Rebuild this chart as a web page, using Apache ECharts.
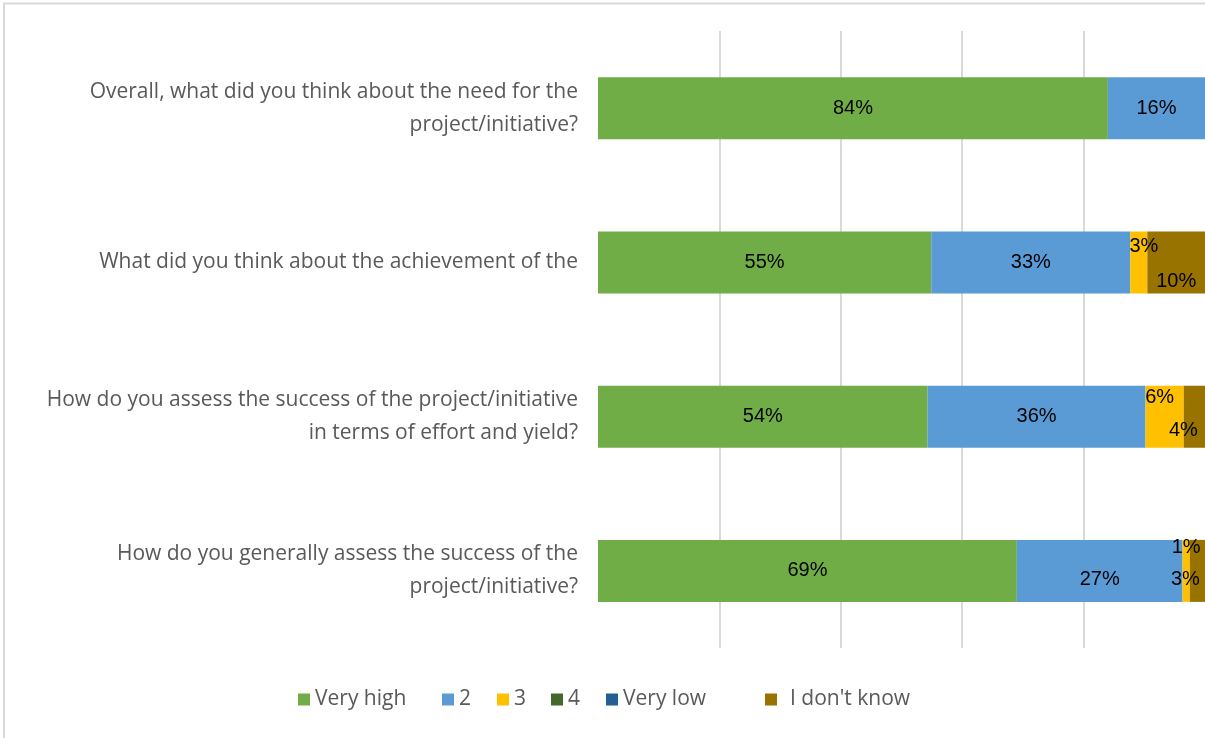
<!DOCTYPE html>
<html>
<head>
<meta charset="utf-8">
<script src="https://cdn.jsdelivr.net/npm/echarts@6/dist/echarts.min.js"></script>
<style>
html,body{margin:0;padding:0;background:#fff;}
#main{width:1205px;height:738px;}
</style>
</head>
<body>
<div id="main"></div>
<script>
// ---- data ----
var categories = [
  "Overall, what did you think about the need for the\nproject/initiative?",
  "What did you think about the achievement of the",
  "How do you assess the success of the project/initiative\nin terms of effort and yield?",
  "How do you generally assess the success of the\nproject/initiative?"
];
var seriesNames = ["Very high", "2", "3", "4", "Very low", "I don't know"];
var veryHigh = [84, 54.9, 54.3, 69.0];
var two      = [16, 32.8, 35.9, 27.3];
var three    = [0, 2.8, 6.3, 1.2];
var four     = [0, 0, 0, 0];
var veryLow  = [0, 0, 0, 0];
var dontKnow = [0, 9.5, 3.5, 2.5];
var xTicks = [0, 20, 40, 60, 80, 100];

// ---- styling ----
var colors = ["#70AD47", "#5B9BD5", "#FFC000", "#43682B", "#255E91", "#997300"];
var allValues = [veryHigh, two, three, four, veryLow, dontKnow];
// label offsets [seriesIndex-rowIndex] to mimic Excel's collision placement
var labelOffsets = {
  "1-3": [0, 9],
  "2-1": [5, -16], "5-1": [0, 19],
  "2-2": [-5, -19], "5-2": [-11, 14],
  "2-3": [0, -23], "5-3": [-12, 9]
};

var series = seriesNames.map(function (name, si) {
  return {
    name: name,
    type: 'bar',
    stack: 'total',
    barWidth: 62,
    itemStyle: { color: colors[si] },
    label: {
      show: true,
      position: 'inside',
      color: '#000',
      fontFamily: 'Liberation Sans, Arial, sans-serif',
      fontSize: 20,
      formatter: function (p) { return p.value > 0 ? Math.round(p.value) + '%' : ''; }
    },
    data: allValues[si].map(function (v, ri) {
      var off = labelOffsets[si + '-' + ri];
      var d = { value: v };
      if (off) d.label = { offset: off };
      return d;
    })
  };
});

var legendLefts = [298, 442, 497, 551, 606, 765];
var legends = seriesNames.map(function (name, i) {
  return {
    data: [name],
    left: legendLefts[i],
    top: 689,
    itemWidth: 12,
    itemHeight: 12,
    icon: 'rect',
    itemGap: 0,
    padding: 0,
    textStyle: {
      color: '#595959',
      fontSize: 21,
      fontFamily: 'Open Sans, Noto Sans, sans-serif',
      padding: name === "I don't know" ? [0, 0, 0, 8] : [0, 0, 0, 0]
    },
    selectedMode: false
  };
});

var chart = echarts.init(document.getElementById('main'), null, { renderer: 'canvas' });
chart.setOption({
  animation: false,
  backgroundColor: '#fff',
  graphic: [{
    type: 'rect',
    shape: { x: 4, y: 3.5, width: 1300, height: 800 },
    style: { fill: 'none', stroke: '#d9d9d9', lineWidth: 2 },
    silent: true,
    z: -10
  }],
  legend: legends,
  grid: { left: 598, right: 0, top: 31, bottom: 90, containLabel: false },
  xAxis: {
    type: 'value',
    min: xTicks[0],
    max: xTicks[xTicks.length - 1],
    interval: xTicks[1] - xTicks[0],
    axisLabel: { show: false },
    axisLine: { show: false },
    axisTick: { show: false },
    splitLine: { show: true, showMinLine: false, showMaxLine: false, lineStyle: { color: '#d9d9d9', width: 2 } }
  },
  yAxis: {
    type: 'category',
    inverse: true,
    data: categories,
    axisLine: { show: false },
    axisTick: { show: false },
    axisLabel: {
      margin: 20,
      color: '#595959',
      fontSize: 21,
      lineHeight: 33,
      align: 'right',
      fontFamily: 'Open Sans, Noto Sans, sans-serif'
    }
  },
  series: series
});
</script>
</body>
</html>
